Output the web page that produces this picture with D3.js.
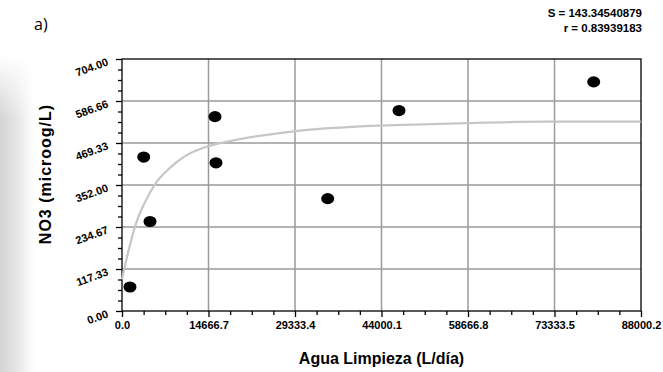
<!DOCTYPE html>
<html lang="es">
<head>
<meta charset="UTF-8">
<script src="https://d3js.org/d3.v7.min.js"></script>
<style>
  body { margin: 0; background: #fff; }
  svg { display: block; font-family: "Liberation Sans", Arial, sans-serif; }
</style>
</head>
<body>
<div id="chart"></div>
<script>
// observed points
var aguaLimpieza = [1356, 3680, 4748, 15769, 15938, 34878, 46967, 79980];
var no3 = [67, 430, 250, 543, 414, 314, 560, 640];

// fitted curve
var curveX = [0, 1017, 2425, 3849, 5545, 7800, 10631, 14582, 19668, 29214, 44033, 52224, 58446, 71383, 87950];
var curveY = [89, 163, 247, 302, 353, 395, 432, 460, 479, 502, 518, 522, 525, 529, 529];

var xTicks = [0, 14666.7, 29333.4, 44000.1, 58666.8, 73333.5, 88000.2];
var xTickLabels = ["0.0", "14666.7", "29333.4", "44000.1", "58666.8", "73333.5", "88000.2"];
var yTicks = [0, 117.33, 234.67, 352, 469.33, 586.66, 704];
var yTickLabels = ["0.00", "117.33", "234.67", "352.00", "469.33", "586.66", "704.00"];

var width = 663, height = 372;
var margin = {top: 59, right: 22, bottom: 60, left: 122};

var svg = d3.select("#chart").append("svg")
    .attr("width", width)
    .attr("height", height);

// soft grey band on the left edge
var defs = svg.append("defs");
var grad = defs.append("linearGradient").attr("id", "edge").attr("x1", 0).attr("x2", 1);
grad.append("stop").attr("offset", 0).attr("stop-color", "#d4d4d4");
grad.append("stop").attr("offset", 0.5).attr("stop-color", "#e6e6e6");
grad.append("stop").attr("offset", 1).attr("stop-color", "#ffffff");
var vgrad = defs.append("linearGradient").attr("id", "edgeMask").attr("x1", 0).attr("x2", 0).attr("y1", 0).attr("y2", 1);
vgrad.append("stop").attr("offset", 0.15).attr("stop-color", "#fff").attr("stop-opacity", 1);
vgrad.append("stop").attr("offset", 0.32).attr("stop-color", "#fff").attr("stop-opacity", 0);
svg.append("rect").attr("x", 0).attr("y", 0).attr("width", 34).attr("height", height).attr("fill", "url(#edge)");
svg.append("rect").attr("x", 0).attr("y", 0).attr("width", 34).attr("height", height).attr("fill", "url(#edgeMask)");

var x = d3.scaleLinear()
    .domain([0, 88000.2])
    .range([margin.left, width - margin.right]);

var y = d3.scaleLinear()
    .domain([0, 704])
    .range([height - margin.bottom - 1, margin.top]);

// minor tick values: three between each pair of majors
function minors(ticks) {
    var out = [];
    for (var i = 0; i < ticks.length - 1; i++) {
        for (var k = 1; k < 4; k++) out.push(ticks[i] + (ticks[i + 1] - ticks[i]) * k / 4);
    }
    return out;
}

// grid
svg.append("g")
    .selectAll("line")
    .data(xTicks.slice(1, -1))
    .join("line")
    .attr("x1", d => x(d)).attr("x2", d => x(d))
    .attr("y1", y(704)).attr("y2", y(0))
    .attr("stroke", "#9a9a9a").attr("stroke-width", 1.5);

svg.append("g")
    .selectAll("line")
    .data(yTicks.slice(1, -1))
    .join("line")
    .attr("x1", x(0)).attr("x2", x(88000.2))
    .attr("y1", d => y(d)).attr("y2", d => y(d))
    .attr("stroke", "#9a9a9a").attr("stroke-width", 1.5);

// frame
svg.append("rect")
    .attr("x", x(0)).attr("y", y(704))
    .attr("width", x(88000.2) - x(0)).attr("height", y(0) - y(704))
    .attr("fill", "none").attr("stroke", "#000").attr("stroke-width", 1.3);

// x axis
var xAxis = svg.append("g").attr("transform", `translate(0,${y(0)})`);
xAxis.call(d3.axisBottom(x).tickValues(minors(xTicks)).tickSize(4).tickFormat(""))
    .call(g => g.select(".domain").remove());
xAxis.append("g")
    .call(d3.axisBottom(x).tickValues(xTicks).tickSize(6).tickPadding(4)
        .tickFormat((d, i) => xTickLabels[i]))
    .call(g => g.select(".domain").remove());
xAxis.selectAll("line").attr("stroke", "#000").attr("stroke-width", 1.3);
xAxis.selectAll("text")
    .attr("font-size", 11).attr("font-weight", "bold").attr("fill", "#000")
    .attr("font-family", "Liberation Sans, Arial, sans-serif");

// y axis (labels drawn separately so they can be tilted)
var yAxis = svg.append("g").attr("transform", `translate(${x(0)},0)`);
yAxis.call(d3.axisLeft(y).tickValues(minors(yTicks)).tickSize(4).tickFormat(""))
    .call(g => g.select(".domain").remove());
yAxis.append("g")
    .call(d3.axisLeft(y).tickValues(yTicks).tickSize(6).tickFormat(""))
    .call(g => g.select(".domain").remove());
yAxis.selectAll("line").attr("stroke", "#000").attr("stroke-width", 1.3);

svg.append("g")
    .selectAll("text")
    .data(yTicks)
    .join("text")
    .attr("transform", d => `translate(${x(0) - 13},${y(d) + 6}) rotate(-20)`)
    .attr("text-anchor", "end")
    .attr("font-size", 11).attr("font-weight", "bold").attr("fill", "#000")
    .text((d, i) => yTickLabels[i]);

// fitted curve
var line = d3.line()
    .x((d, i) => x(curveX[i]))
    .y(d => y(d))
    .curve(d3.curveMonotoneX);

svg.append("path")
    .datum(curveY)
    .attr("d", line)
    .attr("fill", "none")
    .attr("stroke", "#c6c6c6")
    .attr("stroke-width", 2.2);

// points
svg.append("g")
    .selectAll("ellipse")
    .data(no3)
    .join("ellipse")
    .attr("cx", (d, i) => x(aguaLimpieza[i]))
    .attr("cy", d => y(d))
    .attr("rx", 6.5)
    .attr("ry", 5.6)
    .attr("fill", "#000");

// axis titles
svg.append("text")
    .attr("x", (x(0) + x(88000.2)) / 2)
    .attr("y", 364)
    .attr("text-anchor", "middle")
    .attr("font-size", 16).attr("font-weight", "bold")
    .text("Agua Limpieza (L/día)");

svg.append("text")
    .attr("transform", `translate(51,174) rotate(-90)`)
    .attr("text-anchor", "middle")
    .attr("font-size", 16).attr("font-weight", "bold")
    .attr("letter-spacing", 1)
    .text("NO3 (microog/L)");

// fit stats
svg.append("text")
    .attr("x", 642).attr("y", 17)
    .attr("text-anchor", "end")
    .attr("font-size", 11.5).attr("font-weight", "bold")
    .text("S = 143.34540879");
svg.append("text")
    .attr("x", 642).attr("y", 32)
    .attr("text-anchor", "end")
    .attr("font-size", 11.5).attr("font-weight", "bold")
    .text("r = 0.83939183");

svg.append("text")
    .attr("x", 34).attr("y", 30)
    .attr("font-size", 16)
    .attr("font-family", "Open Sans, sans-serif")
    .text("a)");
</script>
</body>
</html>
